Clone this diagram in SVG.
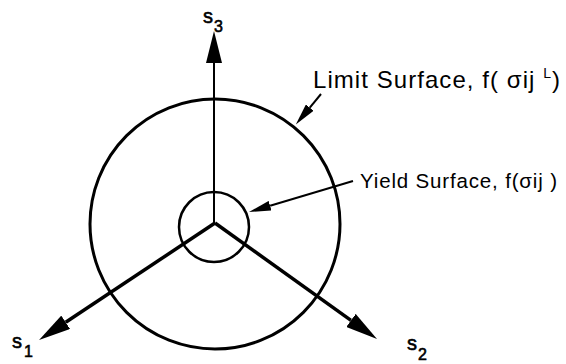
<svg xmlns="http://www.w3.org/2000/svg" width="566" height="364" viewBox="0 0 566 364">
<style>
.lbl{font-family:"Liberation Sans",Arial,sans-serif;fill:#000}
.sym{font-family:"Liberation Sans",Arial,sans-serif;fill:#000;stroke:#000;stroke-width:0.6}
.ax{stroke:#000;fill:none;stroke-linecap:butt}
.circ{stroke:#000;fill:none}
</style>
<defs>
<marker id="bigArrow" markerUnits="userSpaceOnUse" markerWidth="32" markerHeight="16" refX="0" refY="8" orient="auto" viewBox="0 0 32 16">
<path d="M0,0 L32,8 L0,16 z" fill="#000"/>
</marker>
<marker id="smallArrow" markerUnits="userSpaceOnUse" markerWidth="22" markerHeight="10" refX="0" refY="5" orient="auto" viewBox="0 0 22 10">
<path d="M0,0 L22,5 L0,10 z" fill="#000"/>
</marker>
</defs>
<rect width="566" height="364" fill="#fff"/>
<g id="limit-surface">
<circle class="circ" cx="215" cy="224" r="125" stroke-width="3"/>
</g>
<g id="yield-surface">
<circle class="circ" cx="214" cy="227" r="35" stroke-width="2.5"/>
</g>
<g id="connectors">
<line class="ax" x1="214" y1="223" x2="214" y2="63" stroke-width="2" marker-end="url(#bigArrow)"/>
<line class="ax" x1="215" y1="223" x2="65.7" y2="322.3" stroke-width="3.5" marker-end="url(#bigArrow)"/>
<line class="ax" x1="215" y1="223" x2="351" y2="320.4" stroke-width="3.5" marker-end="url(#bigArrow)"/>
<line class="ax" x1="321" y1="94" x2="309.8" y2="107.6" stroke-width="2" marker-end="url(#smallArrow)"/>
<line class="ax" x1="353" y1="181" x2="270.1" y2="205.7" stroke-width="2" marker-end="url(#smallArrow)"/>
</g>
<g id="label-s3">
<text class="sym" x="203" y="23" font-size="20">s</text>
<text class="sym" x="214" y="32" font-size="16">3</text>
</g>
<g id="label-s1">
<text class="sym" x="12" y="348" font-size="20">s</text>
<text class="sym" x="24" y="357" font-size="16">1</text>
</g>
<g id="label-s2">
<text class="sym" x="407" y="350" font-size="20">s</text>
<text class="sym" x="418" y="360" font-size="16">2</text>
</g>
<g id="label-limit">
<text class="lbl" x="313" y="88" font-size="24" textLength="247" lengthAdjust="spacing">Limit Surface, f( σij <tspan font-size="14" dy="-10">L</tspan><tspan dy="10">)</tspan></text>
</g>
<g id="label-yield">
<text class="lbl" x="360" y="188" font-size="20.5" textLength="197" lengthAdjust="spacing">Yield Surface, f(σij )</text>
</g>
</svg>
